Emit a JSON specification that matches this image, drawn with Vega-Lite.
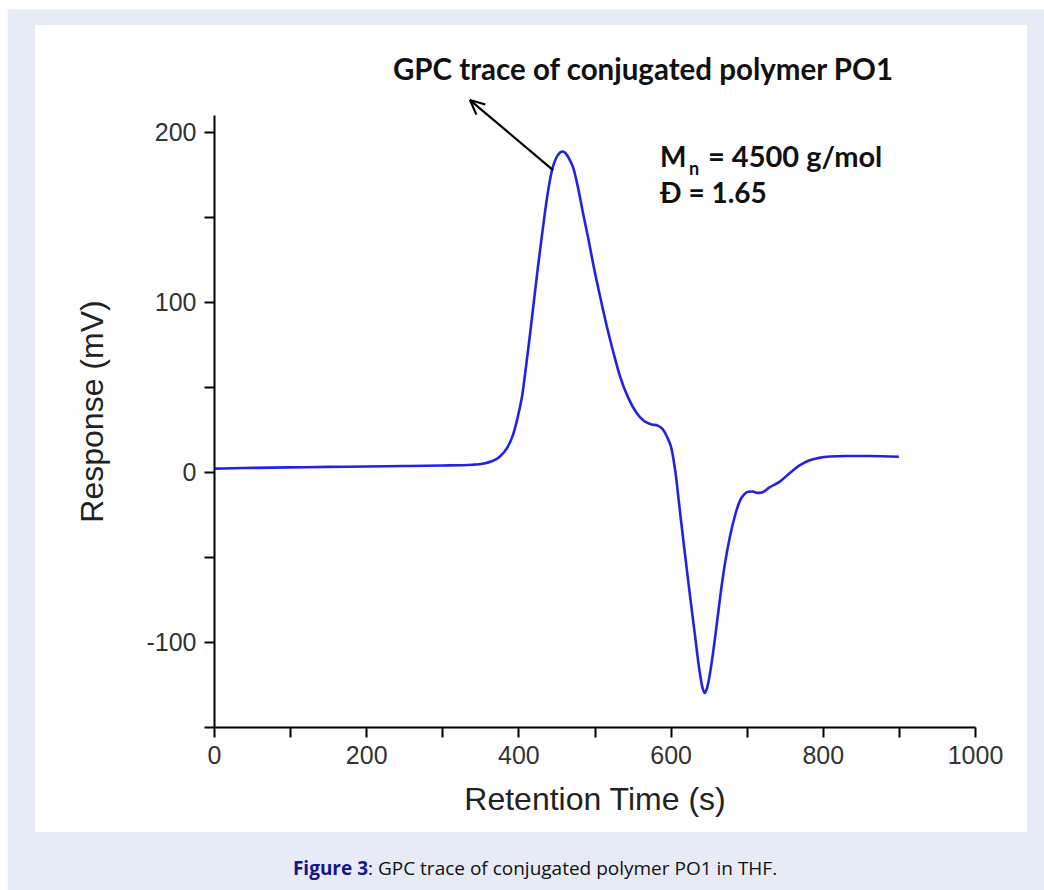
{
  "$schema": "https://vega.github.io/schema/vega-lite/v6.json",
  "width": 761,
  "height": 612,
  "autosize": {"type": "none"},
  "padding": {"left": 214, "top": 115, "right": 69, "bottom": 163},
  "background": "#ffffff",
  "config": {"view": {"stroke": null}},
  "datasets": {
    "trace": [
      {"t": 0, "r": 2.0}, {"t": 25, "r": 2.2}, {"t": 50, "r": 2.4}, {"t": 100, "r": 2.7},
      {"t": 150, "r": 3.0}, {"t": 200, "r": 3.2}, {"t": 250, "r": 3.5}, {"t": 300, "r": 3.8},
      {"t": 340, "r": 4.3}, {"t": 355, "r": 5.0}, {"t": 365, "r": 6.3}, {"t": 375, "r": 8.8},
      {"t": 385, "r": 14}, {"t": 393, "r": 22}, {"t": 400, "r": 34}, {"t": 405, "r": 45},
      {"t": 410, "r": 62}, {"t": 415, "r": 80}, {"t": 420, "r": 99}, {"t": 425, "r": 118},
      {"t": 430, "r": 136}, {"t": 435, "r": 153}, {"t": 440, "r": 168}, {"t": 445, "r": 179},
      {"t": 450, "r": 185}, {"t": 455, "r": 188}, {"t": 458, "r": 188.5}, {"t": 462, "r": 187.5},
      {"t": 467, "r": 184}, {"t": 472, "r": 179}, {"t": 478, "r": 168}, {"t": 485, "r": 152},
      {"t": 492, "r": 137}, {"t": 498, "r": 123}, {"t": 507, "r": 104}, {"t": 516, "r": 86},
      {"t": 525, "r": 70}, {"t": 533, "r": 57}, {"t": 545, "r": 43}, {"t": 555, "r": 35},
      {"t": 565, "r": 30}, {"t": 575, "r": 28}, {"t": 583, "r": 27.3}, {"t": 590, "r": 25},
      {"t": 596, "r": 20}, {"t": 601, "r": 14}, {"t": 606, "r": 1}, {"t": 612, "r": -22},
      {"t": 618, "r": -45}, {"t": 625, "r": -71}, {"t": 632, "r": -96}, {"t": 638, "r": -117},
      {"t": 642, "r": -127}, {"t": 645, "r": -130}, {"t": 648, "r": -127}, {"t": 654, "r": -112},
      {"t": 660, "r": -92}, {"t": 665, "r": -74}, {"t": 671, "r": -55}, {"t": 678, "r": -38},
      {"t": 685, "r": -25}, {"t": 691, "r": -17}, {"t": 697, "r": -13}, {"t": 702, "r": -11.6},
      {"t": 708, "r": -11.5}, {"t": 714, "r": -12.3}, {"t": 720, "r": -12}, {"t": 730, "r": -9},
      {"t": 744, "r": -5.5}, {"t": 757, "r": -0.5}, {"t": 770, "r": 4}, {"t": 782, "r": 6.8},
      {"t": 795, "r": 8.3}, {"t": 810, "r": 9.1}, {"t": 830, "r": 9.4}, {"t": 860, "r": 9.4},
      {"t": 900, "r": 9.0}
    ]
  },
  "layer": [
    {
      "data": {"values": [{}]},
      "mark": {"type": "rect", "fill": "#e7ebf6", "clip": false},
      "encoding": {
        "x": {"datum": -271, "type": "quantitative"}, "x2": {"datum": 1100},
        "y": {"datum": 272, "type": "quantitative"}, "y2": {"datum": -262}
      }
    },
    {
      "data": {"values": [{}]},
      "mark": {"type": "rect", "fill": "#ffffff", "clip": false},
      "encoding": {
        "x": {"datum": -235.2, "type": "quantitative"}, "x2": {"datum": 1068.3},
        "y": {"datum": 262.9, "type": "quantitative"}, "y2": {"datum": -211.8}
      }
    },
    {
      "data": {"name": "trace"},
      "mark": {"type": "line", "color": "#2222e6", "strokeWidth": 2.6, "interpolate": "monotone"},
      "encoding": {
        "x": {
          "field": "t", "type": "quantitative",
          "scale": {"domain": [0, 1000], "nice": false, "zero": false},
          "axis": {
            "title": "Retention Time (s)",
            "values": [0, 100, 200, 300, 400, 500, 600, 700, 800, 900, 1000],
            "labelExpr": "datum.value % 200 === 0 ? '' + datum.value : ''",
            "grid": false, "zindex": 1,
            "domainColor": "#000000", "domainWidth": 2,
            "tickColor": "#000000", "tickWidth": 2, "tickSize": 10,
            "labelFont": "Liberation Sans", "labelFontSize": 25, "labelColor": "#333333", "labelPadding": 6,
            "labelFlush": false, "labelOverlap": false,
            "titleFont": "Liberation Sans", "titleFontSize": 32, "titleFontWeight": "normal",
            "titleColor": "#222222", "titlePadding": 16
          }
        },
        "y": {
          "field": "r", "type": "quantitative",
          "scale": {"domain": [-150, 210], "nice": false, "zero": false},
          "axis": {
            "title": "Response (mV)",
            "values": [-150, -100, -50, 0, 50, 100, 150, 200],
            "labelExpr": "datum.value % 100 === 0 ? '' + datum.value : ''",
            "grid": false, "zindex": 1,
            "domainColor": "#000000", "domainWidth": 2,
            "tickColor": "#000000", "tickWidth": 2, "tickSize": 10,
            "labelFont": "Liberation Sans", "labelFontSize": 25, "labelColor": "#333333", "labelPadding": 8,
            "labelFlush": false, "labelOverlap": false,
            "titleFont": "Liberation Sans", "titleFontSize": 32, "titleFontWeight": "normal",
            "titleColor": "#222222", "titlePadding": 36, "titleY": 296
          }
        }
      }
    },
    {
      "data": {"values": [{}]},
      "mark": {"type": "rule", "color": "#000000", "strokeWidth": 2.2, "clip": false},
      "encoding": {
        "x": {"datum": 445.5, "type": "quantitative"}, "x2": {"datum": 336.4},
        "y": {"datum": 177.6, "type": "quantitative"}, "y2": {"datum": 218.8}
      }
    },
    {
      "data": {"values": [{}]},
      "mark": {"type": "rule", "color": "#000000", "strokeWidth": 2.2, "clip": false},
      "encoding": {
        "x": {"datum": 336.4, "type": "quantitative"}, "x2": {"datum": 356.5},
        "y": {"datum": 218.8, "type": "quantitative"}, "y2": {"datum": 216.2}
      }
    },
    {
      "data": {"values": [{}]},
      "mark": {"type": "rule", "color": "#000000", "strokeWidth": 2.2, "clip": false},
      "encoding": {
        "x": {"datum": 336.4, "type": "quantitative"}, "x2": {"datum": 344.8},
        "y": {"datum": 218.8, "type": "quantitative"}, "y2": {"datum": 210.2}
      }
    },
    {
      "data": {"values": [{}]},
      "mark": {"type": "text", "text": "GPC trace of conjugated polymer PO1", "font": "Lato", "fontWeight": "bold", "fontSize": 29.5, "align": "center", "baseline": "alphabetic", "color": "#111111", "clip": false},
      "encoding": {"x": {"datum": 563.7, "type": "quantitative"}, "y": {"datum": 230.5, "type": "quantitative"}}
    },
    {
      "data": {"values": [{}]},
      "mark": {"type": "text", "text": "M", "font": "Lato", "fontWeight": "bold", "fontSize": 28, "align": "left", "baseline": "alphabetic", "color": "#111111", "clip": false},
      "encoding": {"x": {"datum": 586.1, "type": "quantitative"}, "y": {"datum": 179.4, "type": "quantitative"}}
    },
    {
      "data": {"values": [{}]},
      "mark": {"type": "text", "text": "n", "font": "Lato", "fontWeight": "bold", "fontSize": 18, "align": "left", "baseline": "alphabetic", "color": "#111111", "clip": false},
      "encoding": {"x": {"datum": 624.2, "type": "quantitative"}, "y": {"datum": 175.0, "type": "quantitative"}}
    },
    {
      "data": {"values": [{}]},
      "mark": {"type": "text", "text": "= 4500 g/mol", "font": "Lato", "fontWeight": "bold", "fontSize": 29, "align": "left", "baseline": "alphabetic", "color": "#111111", "clip": false},
      "encoding": {"x": {"datum": 649.1, "type": "quantitative"}, "y": {"datum": 179.4, "type": "quantitative"}}
    },
    {
      "data": {"values": [{}]},
      "mark": {"type": "text", "text": "Đ = 1.65", "font": "Lato", "fontWeight": "bold", "fontSize": 28, "align": "left", "baseline": "alphabetic", "color": "#111111", "clip": false},
      "encoding": {"x": {"datum": 586.1, "type": "quantitative"}, "y": {"datum": 158.2, "type": "quantitative"}}
    },
    {
      "data": {"values": [{}]},
      "mark": {"type": "text", "text": "Figure 3", "font": "Open Sans", "fontWeight": "bold", "fontSize": 19, "align": "right", "baseline": "alphabetic", "color": "#14148c", "clip": false},
      "encoding": {"x": {"datum": 202.4, "type": "quantitative"}, "y": {"datum": -237.1, "type": "quantitative"}}
    },
    {
      "data": {"values": [{}]},
      "mark": {"type": "text", "text": ": GPC trace of conjugated polymer PO1 in THF.", "font": "Open Sans", "fontSize": 19, "align": "left", "baseline": "alphabetic", "color": "#111111", "clip": false},
      "encoding": {"x": {"datum": 202.4, "type": "quantitative"}, "y": {"datum": -237.1, "type": "quantitative"}}
    }
  ]
}
